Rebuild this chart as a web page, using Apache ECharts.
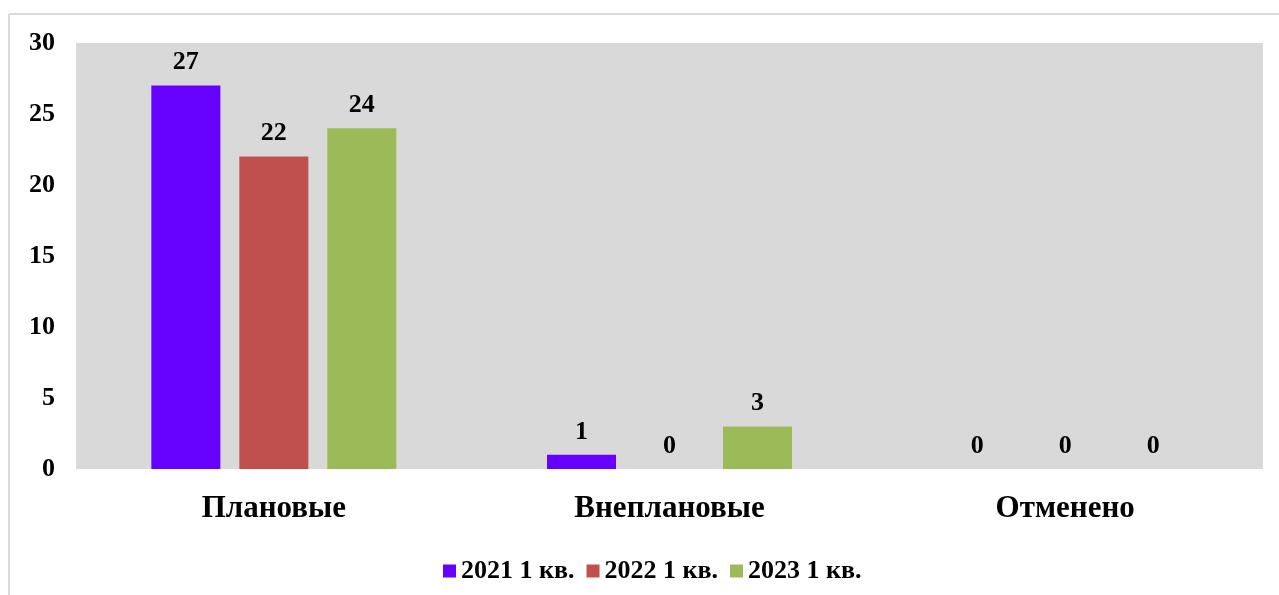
<!DOCTYPE html>
<html><head><meta charset="utf-8">
<script src="https://cdn.jsdelivr.net/npm/echarts@6/dist/echarts.min.js"></script>
<style>html,body{margin:0;padding:0;background:#fff}#c{width:1279px;height:595px}</style>
</head><body><div id="c"></div>
<script>
const categories = ['Плановые', 'Внеплановые', 'Отменено'];
const seriesNames = ['2021 1 кв.', '2022 1 кв.', '2023 1 кв.'];
const values2021 = [27, 1, 0];
const values2022 = [22, 0, 0];
const values2023 = [24, 3, 0];
const colors = ['#6600ff', '#c0504d', '#9bbb59'];
const FONT = '"Liberation Serif", "Times New Roman", serif';

const chart = echarts.init(document.getElementById('c'));
const data = [values2021, values2022, values2023];
chart.setOption({
  animation: false,
  textStyle: {fontFamily: FONT},
  graphic: [
    {type: 'line', shape: {x1: 9, y1: 14, x2: 1279, y2: 14}, style: {stroke: '#d9d9d9', lineWidth: 2}},
    {type: 'line', shape: {x1: 9, y1: 14, x2: 9, y2: 595}, style: {stroke: '#d9d9d9', lineWidth: 2}}
  ],
  grid: {left: 76, right: 16, top: 43, bottom: 126, show: true, backgroundColor: '#d9d9d9', borderWidth: 0},
  legend: {
    top: 553, left: 438, itemWidth: 13, itemHeight: 13, itemGap: 12,
    icon: 'rect',
    textStyle: {fontFamily: FONT, fontWeight: 'bold', fontSize: 26, color: '#000'},
    data: seriesNames
  },
  xAxis: {
    type: 'category', data: categories,
    axisLine: {show: false}, axisTick: {show: false},
    axisLabel: {fontFamily: FONT, fontWeight: 'bold', fontSize: 31, color: '#000', margin: 24}
  },
  yAxis: {
    type: 'value', min: 0, max: 30, interval: 5,
    splitLine: {show: false}, axisLine: {show: false}, axisTick: {show: false},
    axisLabel: {fontFamily: FONT, fontWeight: 'bold', fontSize: 26, color: '#000', margin: 21}
  },
  series: seriesNames.map((n, i) => ({
    name: n, type: 'bar', data: data[i], barWidth: 69, barGap: '27.5%',
    itemStyle: {color: colors[i]},
    label: {show: true, position: 'top', distance: 10, fontFamily: FONT, fontWeight: 'bold', fontSize: 26, color: '#000'}
  }))
});
</script></body></html>
